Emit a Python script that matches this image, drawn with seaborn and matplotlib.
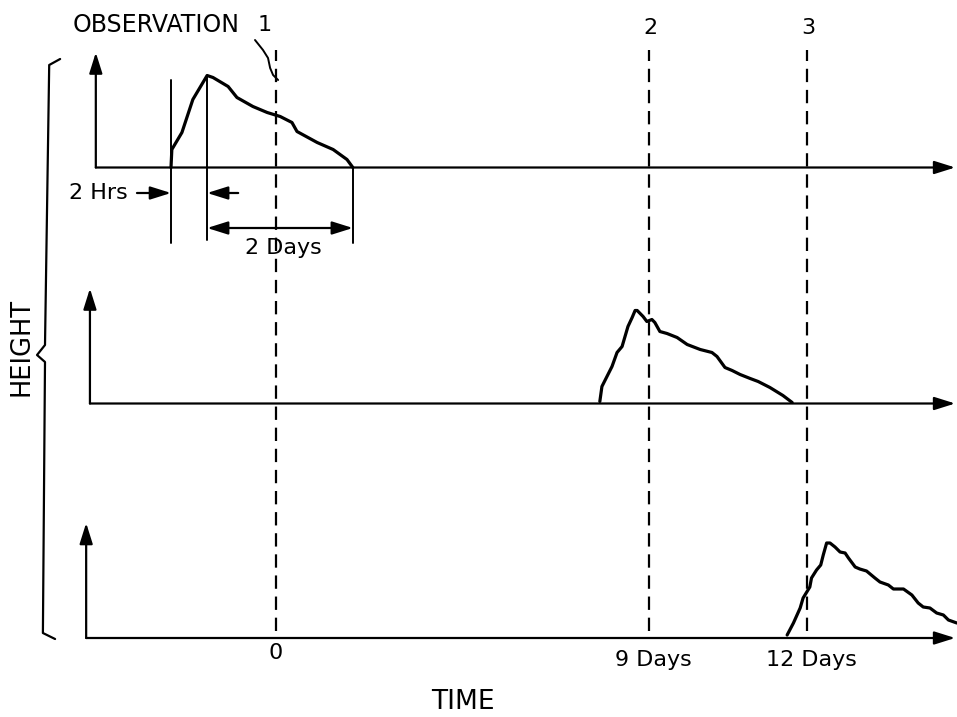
import numpy as np
import pandas as pd
import matplotlib.pyplot as plt
import seaborn as sns

# Observation times (days) and their labels
obs_days = [0, 8.88, 12.64]
obs_numbers = ["1", "2", "3"]
obs_labels = ["0", "9 Days", "12 Days"]

# Pulse curves: time in days, height in relative units (100 px)
top_days = [-2.50, -2.48, -2.24, -1.98, -1.64, -1.50, -1.14, -0.93, -0.55, -0.21,
            0.10, 0.38, 0.50, 0.98, 1.36, 1.69, 1.83]
top_height = [0.00, 0.18, 0.35, 0.68, 0.92, 0.90, 0.81, 0.70, 0.61, 0.55,
              0.51, 0.45, 0.36, 0.25, 0.18, 0.08, 0.00]

mid_days = [7.71, 7.76, 8.00, 8.12, 8.24, 8.38, 8.48, 8.55, 8.60, 8.74, 8.83, 8.95,
            9.02, 9.14, 9.31, 9.55, 9.79, 10.10, 10.38, 10.50, 10.69, 10.86, 11.05,
            11.29, 11.48, 11.76, 12.07, 12.29]
mid_height = [0.02, 0.17, 0.37, 0.51, 0.57, 0.77, 0.86, 0.93, 0.93, 0.87, 0.82, 0.84,
              0.81, 0.72, 0.70, 0.66, 0.59, 0.54, 0.51, 0.47, 0.36, 0.33, 0.29,
              0.25, 0.22, 0.16, 0.08, 0.01]

bot_days = [12.17, 12.32, 12.48, 12.55, 12.71, 12.75, 12.87, 12.97, 13.03, 13.11,
            13.19, 13.31, 13.43, 13.55, 13.63, 13.79, 13.90, 14.06, 14.26, 14.38,
            14.58, 14.70, 14.94, 15.14, 15.29, 15.41, 15.57, 15.73, 15.89, 16.01, 16.21]
bot_height = [0.03, 0.15, 0.30, 0.40, 0.51, 0.60, 0.68, 0.73, 0.83, 0.95,
              0.95, 0.91, 0.86, 0.85, 0.80, 0.71, 0.69, 0.67, 0.60, 0.56,
              0.53, 0.49, 0.49, 0.43, 0.35, 0.31, 0.30, 0.25, 0.23, 0.18, 0.15]

# Layout (data units: x in days, y in 100 px)
baselines = [5.495, 3.135, 0.79]
axis_x = [-4.29, -4.43, -4.52]
axis_len = 1.15
x_end = 16.17

sns.set_theme(style="white")
plt.rcParams['font.family'] = ['DejaVu Sans']
plt.rcParams['text.color'] = 'black'

fig = plt.figure(figsize=(9.57, 7.17), dpi=100)
ax = fig.add_axes([0, 0, 1, 1])
ax.set_xlim(-276 / 42, 681 / 42)
ax.set_ylim(0, 7.17)
ax.axis("off")

curves = pd.concat([
    pd.DataFrame({"days": d, "y": np.array(h) + b, "pulse": name})
    for d, h, b, name in [(top_days, top_height, baselines[0], "1"),
                          (mid_days, mid_height, baselines[1], "2"),
                          (bot_days, bot_height, baselines[2], "3")]
])
sns.lineplot(data=curves, x="days", y="y", hue="pulse", sort=False, estimator=None,
             palette=["black"] * 3, linewidth=2.3, legend=False, ax=ax)

arrow = dict(arrowstyle="-|>,head_length=0.7,head_width=0.22", color="black",
             lw=1.6, shrinkA=0, shrinkB=0, mutation_scale=18)

# panel axes
for x0, b in zip(axis_x, baselines):
    ax.annotate("", xy=(x0, b + axis_len), xytext=(x0, b), arrowprops=arrow)
    ax.annotate("", xy=(x_end, b), xytext=(x0, b), arrowprops=arrow)

# dashed observation lines
for x, n, lab in zip(obs_days, obs_numbers, obs_labels):
    ax.plot([x, x], [0.86, 6.67], color="black", lw=1.6, dashes=(6, 3.5))
    if n != "1":
        ax.text(x + 0.03, 6.89, n, ha="center", va="center", fontsize=16)
    ax.text(x + (0.1 if lab != "0" else 0), 0.57 if lab != "0" else 0.64, lab,
            ha="center", va="center", fontsize=16)

ax.text(-0.26, 6.92, "1", ha="center", va="center", fontsize=16)
ax.text(-2.86, 6.92, "OBSERVATION", ha="center", va="center", fontsize=17)
ax.plot([-0.50, -0.31, -0.19, -0.14, -0.07, 0.05],
        [6.77, 6.67, 6.59, 6.49, 6.42, 6.37], color="black", lw=1.4)

# duration markers on the first pulse
t_start = top_days[0]
t_peak = top_days[int(np.argmax(top_height))]
t_end = top_days[-1]
ax.plot([t_start, t_start], [4.74, 6.37], color="black", lw=1.4)
ax.plot([t_peak, t_peak], [4.77, baselines[0] + max(top_height)], color="black", lw=1.4)
ax.plot([t_end, t_end], [4.74, baselines[0]], color="black", lw=1.4)
ax.annotate("", xy=(t_start, 5.24), xytext=(-3.31, 5.24), arrowprops=arrow)
ax.annotate("", xy=(t_peak, 5.24), xytext=(-0.90, 5.24), arrowprops=arrow)
ax.text(-3.52, 5.24, "2 Hrs", ha="right", va="center", fontsize=16)
ax.annotate("", xy=(t_end, 4.89), xytext=(t_peak, 4.89),
            arrowprops=dict(arrow, arrowstyle="<|-|>,head_length=0.7,head_width=0.22"))
ax.text(0.17, 4.69, "2 Days", ha="center", va="center", fontsize=16)

# height brace
ax.plot([-5.14, -5.40, -5.50, -5.69, -5.50, -5.55, -5.26],
        [6.58, 6.52, 3.72, 3.62, 3.55, 0.84, 0.78], color="black", lw=1.6)
ax.text(-6.05, 3.70, "HEIGHT", rotation=90, ha="center", va="center", fontsize=18.5)
ax.text(4.45, 0.15, "TIME", ha="center", va="center", fontsize=19)

fig.savefig("out.png", dpi=100, facecolor="white")
